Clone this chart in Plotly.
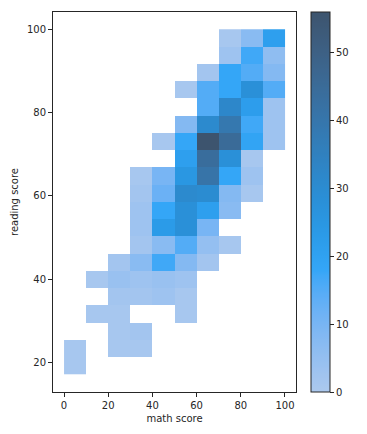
import math
import numpy as np
import plotly.graph_objects as go

# ---- data ----
math_edges = [0, 10, 20, 30, 40, 50, 60, 70, 80, 90, 100]
reading_min = 17
reading_max = 100
reading_bins = 20
# counts per reading-score bin (rows, bottom to top), per math-score bin (columns)
counts = [
    [1, 0, 0, 0, 0, 0, 0, 0, 0, 0],
    [1, 0, 1, 1, 0, 0, 0, 0, 0, 0],
    [0, 0, 1, 2, 0, 0, 0, 0, 0, 0],
    [0, 1, 1, 0, 0, 1, 0, 0, 0, 0],
    [0, 0, 2, 2, 3, 1, 0, 0, 0, 0],
    [0, 1, 4, 3, 4, 3, 0, 0, 0, 0],
    [0, 0, 2, 7, 17, 8, 2, 0, 0, 0],
    [0, 0, 0, 2, 7, 15, 5, 1, 0, 0],
    [0, 0, 0, 3, 23, 28, 10, 0, 0, 0],
    [0, 0, 0, 3, 18, 28, 21, 7, 0, 0],
    [0, 0, 0, 2, 12, 31, 30, 8, 1, 0],
    [0, 0, 0, 1, 10, 25, 41, 18, 3, 0],
    [0, 0, 0, 0, 0, 21, 44, 28, 1, 0],
    [0, 0, 0, 0, 1, 18, 56, 45, 19, 3],
    [0, 0, 0, 0, 0, 8, 31, 39, 17, 3],
    [0, 0, 0, 0, 0, 0, 15, 32, 22, 3],
    [0, 0, 0, 0, 0, 1, 15, 18, 28, 15],
    [0, 0, 0, 0, 0, 0, 2, 18, 15, 8],
    [0, 0, 0, 0, 0, 0, 0, 3, 17, 6],
    [0, 0, 0, 0, 0, 0, 0, 1, 7, 21],
]
cbar_ticks = [0, 10, 20, 30, 40, 50]
x_ticks = [0, 20, 40, 60, 80, 100]
y_ticks = [20, 40, 60, 80, 100]

reading_edges = np.linspace(reading_min, reading_max, reading_bins + 1)

# ---- seaborn-style colormap from color C0 via HUSL ----
m = [[3.2406, -1.5372, -0.4986], [-0.9689, 1.8758, 0.0415], [0.0557, -0.2040, 1.0570]]
m_inv = [[0.4124, 0.3576, 0.1805], [0.2126, 0.7152, 0.0722], [0.0193, 0.1192, 0.9505]]
refY, refU, refV = 1.0, 0.19784, 0.46834
lab_e, lab_k = 0.008856, 903.3


def max_chroma(L, H):
    hrad = math.radians(H)
    sinH, cosH = math.sin(hrad), math.cos(hrad)
    sub1 = (L + 16) ** 3 / 1560896.0
    sub2 = sub1 if sub1 > lab_e else L / lab_k
    result = float("inf")
    for m1, m2, m3 in m:
        top = (0.99915 * m1 + 1.05122 * m2 + 1.14460 * m3) * sub2
        rbottom = 0.86330 * m3 - 0.17266 * m2
        lbottom = 0.12949 * m3 - 0.38848 * m1
        bottom = (rbottom * sinH + lbottom * cosH) * sub2
        for t in (0.0, 1.0):
            C = L * (top - 1.05122 * t) / (bottom + 0.17266 * sinH * t)
            if 0.0 < C < result:
                result = C
    return result


def f(t):
    return t ** (1 / 3) if t > lab_e else 7.787 * t + 16 / 116


def f_inv(t):
    return t ** 3 if t ** 3 > lab_e else (116 * t - 16) / lab_k


def to_lin(c):
    return ((c + 0.055) / 1.055) ** 2.4 if c > 0.04045 else c / 12.92


def from_lin(c):
    return 12.92 * c if c <= 0.0031308 else 1.055 * c ** (1 / 2.4) - 0.055


def rgb_to_husl(r, g, b):
    rl = [to_lin(c) for c in (r, g, b)]
    X, Y, Z = [sum(a * b for a, b in zip(row, rl)) for row in m_inv]
    d = X + 15 * Y + 3 * Z
    varU, varV = 4 * X / d, 9 * Y / d
    L = 116 * f(Y / refY) - 16
    U, V = 13 * L * (varU - refU), 13 * L * (varV - refV)
    C = math.hypot(U, V)
    H = math.degrees(math.atan2(V, U)) % 360
    S = C / max_chroma(L, H) * 100
    return H, S, L


def husl_to_rgb(H, S, L):
    if L > 99.9999999:
        return (1.0, 1.0, 1.0)
    C = max_chroma(L, H) / 100 * S
    hr = math.radians(H)
    U, V = math.cos(hr) * C, math.sin(hr) * C
    varY = f_inv((L + 16) / 116)
    varU = U / (13 * L) + refU
    varV = V / (13 * L) + refV
    Y = varY * refY
    X = -(9 * Y * varU) / ((varU - 4) * varV - varU * varV)
    Z = (9 * Y - 15 * varV * Y - varV * X) / (3 * varV)
    return tuple(min(1, max(0, from_lin(sum(a * b for a, b in zip(row, (X, Y, Z)))))) for row in m)


h, s, _ = rgb_to_husl(0x1f / 255, 0x77 / 255, 0xb4 / 255)
xx = np.linspace(-1, 1, int(1.15 * 256))[:256]
ramp_l = np.linspace(35, 80, 256)
cols = [husl_to_rgb(h, s * math.cos(xv), lv) for xv, lv in zip(xx, ramp_l)][::-1]
colorscale = [[i / 255, "rgb(%d,%d,%d)" % tuple(round(c * 255) for c in col)] for i, col in enumerate(cols)]

z = [[(v if v > 0 else None) for v in row] for row in counts]
vmax = max(max(r) for r in counts)

fig = go.Figure(go.Heatmap(
    x=math_edges, y=reading_edges, z=z,
    colorscale=colorscale, zmin=0, zmax=vmax,
    colorbar=dict(
        thickness=19, lenmode="pixels", len=380,
        x=1.062, xanchor="left", xpad=0, ypad=0,
        y=0.5, yanchor="middle",
        outlinecolor="#262626", outlinewidth=1,
        ticks="outside", ticklen=4, tickcolor="#262626",
        tickvals=cbar_ticks, tickfont=dict(size=10, color="#262626"),
    ),
    hoverongaps=False,
))

axis_common = dict(
    showgrid=False, zeroline=False, showline=True, mirror=True, automargin=False,
    linecolor="#262626", linewidth=1, ticks="outside", ticklen=4,
    tickcolor="#262626", tickfont=dict(size=10, color="#262626"),
)
fig.update_layout(
    width=367, height=434,
    margin=dict(l=53, r=71, t=12, b=42, autoexpand=False),
    paper_bgcolor="white", plot_bgcolor="white",
    font=dict(family="DejaVu Sans", size=10, color="#262626"),
    xaxis=dict(range=[-5, 105], tickvals=x_ticks,
               title=dict(text="math score", standoff=4, font=dict(size=10)), **axis_common),
    yaxis=dict(range=[reading_min - 0.05 * (reading_max - reading_min),
                      reading_max + 0.05 * (reading_max - reading_min)],
               tickvals=y_ticks,
               title=dict(text="reading score", standoff=6, font=dict(size=10)), **axis_common),
)
fig.write_html("out.html", config={"displayModeBar": False},
               post_script="document.body.style.margin='0';")
